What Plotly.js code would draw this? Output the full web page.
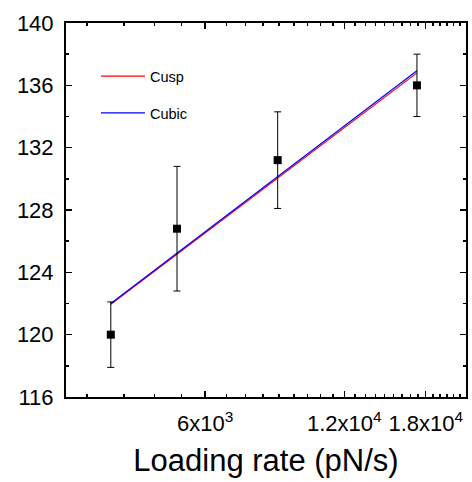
<!DOCTYPE html>
<html>
<head>
<meta charset="utf-8">
<script src="https://cdn.plot.ly/plotly-3.0.1.min.js"></script>
<style>html,body{margin:0;padding:0;background:#fff;}#chart{width:472px;height:482px;}</style>
</head>
<body>
<div id="chart"></div>
<script>
// Data
var loadingRate = [3750, 5215, 8610, 17230];
var force = [120.0, 126.8, 131.2, 136.0];
var forceErr = [2.1, 4.0, 3.1, 2.0];
var fitX = [3750, 17230];
var cuspFit = [121.95, 136.8];
var cubicFit = [122.0, 136.93];
var seriesNames = ['Cusp', 'Cubic'];
var xTickVals = [6000, 12000, 18000];
var xTickText = ['6x10<sup>3</sup>', '1.2x10<sup>4</sup>', '1.8x10<sup>4</sup>'];

// minor tick positions (axis decoration): every 2000/3 between 3000 and 22000
var minorX = [];
for (var k = 5; k * 2000 / 3 < 22000; k++) {
  var v = k * 2000 / 3;
  if (Math.abs(v / 6000 - Math.round(v / 6000)) > 1e-6) minorX.push(v);
}

var font = '"Liberation Sans", Arial, sans-serif';

var traces = [
  {x: fitX, y: cuspFit, mode: 'lines', name: seriesNames[0], legendgroup: 'a',
   line: {color: 'rgb(255,0,0)', width: 1.2}},
  {x: fitX, y: cubicFit, mode: 'lines', name: seriesNames[1], legendgroup: 'b',
   line: {color: 'rgb(0,0,255)', width: 1.2}},
  {x: loadingRate, y: force, mode: 'markers', showlegend: false,
   marker: {symbol: 'square', size: 8, color: '#000'},
   error_y: {type: 'data', array: forceErr, visible: true, color: '#000', thickness: 1, width: 3.5}}
];

var layout = {
  width: 472, height: 482,
  margin: {l: 66, r: 6, t: 23, b: 85},
  paper_bgcolor: '#fff', plot_bgcolor: '#fff',
  font: {family: font, color: '#000'},
  showlegend: true,
  legend: {x: 0.075, y: 0.9007, xanchor: 'left', yanchor: 'top', bgcolor: 'rgba(0,0,0,0)',
           font: {family: font, size: 14.5, color: '#000'}, tracegroupgap: 15, itemwidth: 44},
  xaxis: {
    type: 'log', range: [Math.log10(3000), Math.log10(22000)],
    tickmode: 'array', tickvals: xTickVals, ticktext: xTickText, tickangle: 0,
    ticks: 'inside', ticklen: 6, tickwidth: 1.5, tickcolor: '#000',
    showline: true, linecolor: '#000', linewidth: 2, mirror: 'ticks',
    showgrid: false, zeroline: false,
    tickfont: {family: font, size: 22, color: '#000'},
    ticklabelstandoff: 6,
    minor: {tickmode: 'array', tickvals: minorX, ticks: 'inside', ticklen: 3, tickwidth: 1.5, tickcolor: '#000', showgrid: false},
    title: {text: 'Loading rate (pN/s)', font: {family: font, size: 31, color: '#000'}, standoff: 14}
  },
  yaxis: {
    range: [116, 140], dtick: 4, tick0: 116,
    ticks: 'inside', ticklen: 6, tickwidth: 1.5, tickcolor: '#000',
    showline: true, linecolor: '#000', linewidth: 2, mirror: 'ticks',
    showgrid: false, zeroline: false,
    tickfont: {family: font, size: 22, color: '#000'},
    ticklabelstandoff: 6,
    minor: {dtick: 2, ticks: 'inside', ticklen: 3, tickwidth: 1.5, tickcolor: '#000', showgrid: false}
  }
};

Plotly.newPlot('chart', traces, layout, {displayModeBar: false, staticPlot: true});
</script>
</body>
</html>
